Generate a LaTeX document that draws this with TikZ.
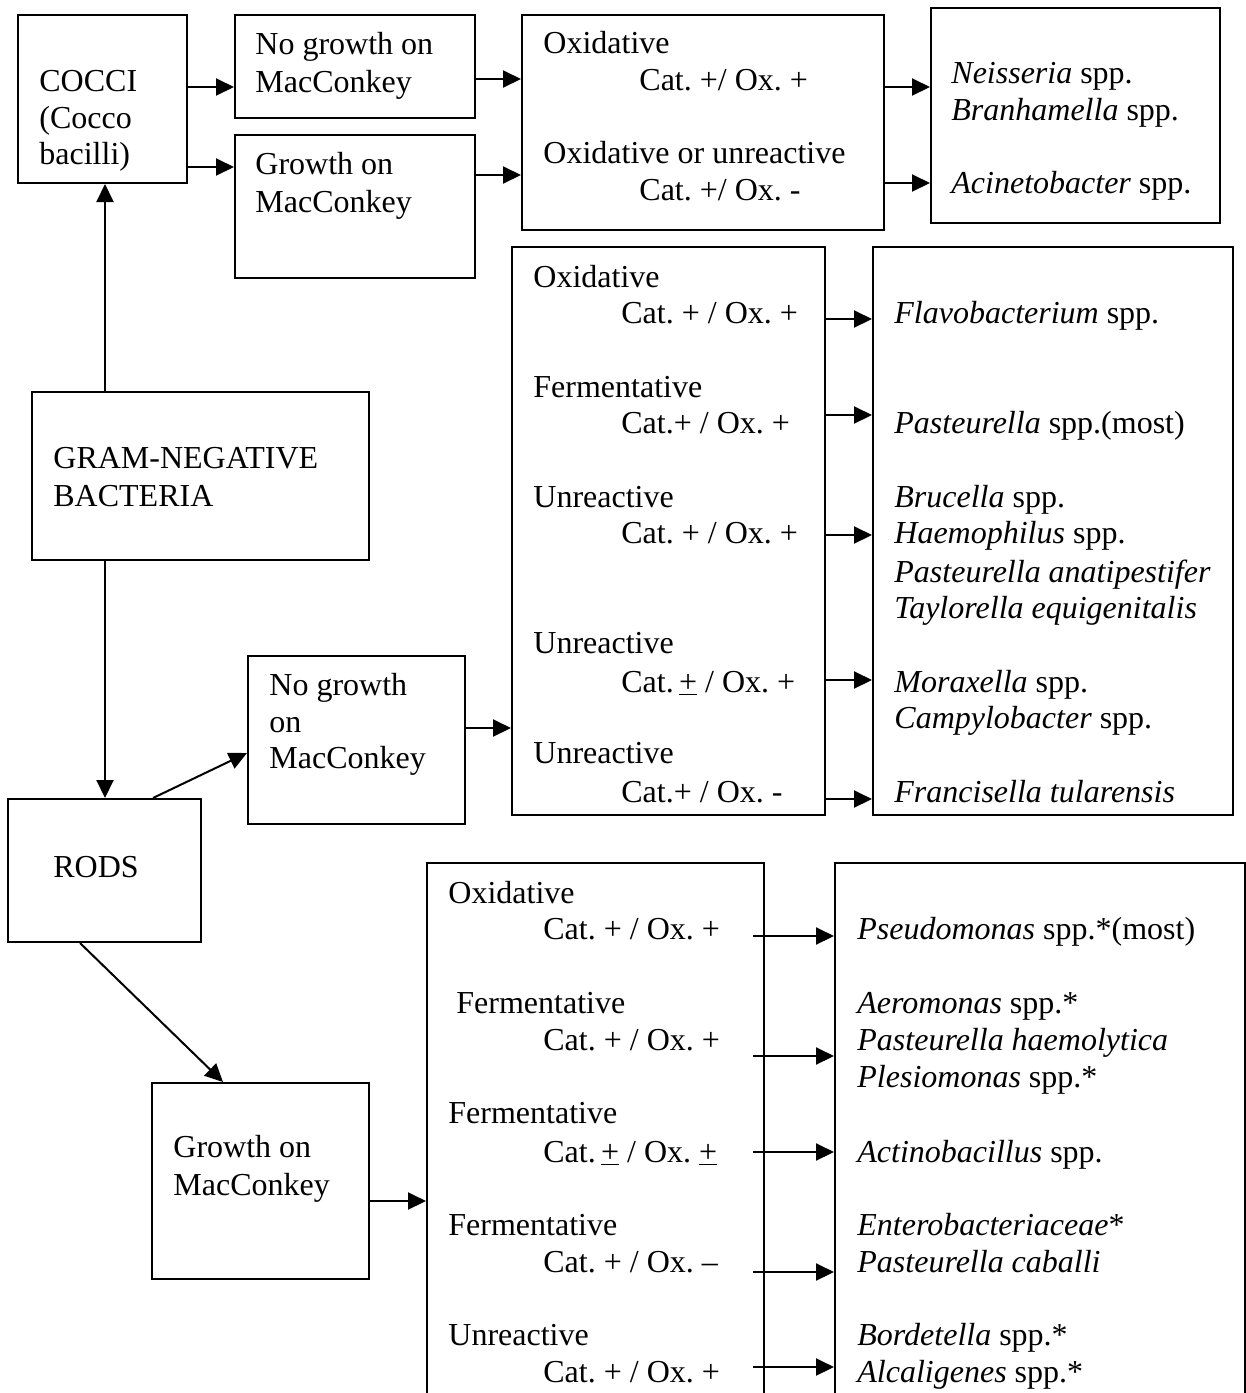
\documentclass[tikz,border=0pt]{standalone}
\usepackage{fontspec}
\setmainfont{Liberation Serif}
\frenchspacing
\usetikzlibrary{arrows.meta,fit}

\tikzset{
  box/.style={draw, line width=1pt, inner sep=0pt},
  txt/.style={anchor=base west, inner sep=0pt, font=\fontsize{16}{18.4}\selectfont},
  arr/.style={line width=1pt, -{Triangle[length=9pt,width=8.5pt]}},
}

\begin{document}
\begin{tikzpicture}[x=0.5pt,y=-0.5pt]
  \useasboundingbox (0,0) rectangle (1246,1393);

  % boxes
  \node[box, fit={(18,15) (187,183)}] (cocci) {};
  \node[box, fit={(235,15) (475,118)}] (nogrowthA) {};
  \node[box, fit={(235,135) (475,278)}] (growthA) {};
  \node[box, fit={(522,15) (884,230)}] (testsA) {};
  \node[box, fit={(931,8) (1220,223)}] (speciesA) {};
  \node[box, fit={(32,392) (369,560)}] (gram) {};
  \node[box, fit={(8,799) (201,942)}] (rods) {};
  \node[box, fit={(248,656) (465,824)}] (nogrowthB) {};
  \node[box, fit={(512,247) (825,815)}] (testsB) {};
  \node[box, fit={(873,247) (1233,815)}] (speciesB) {};
  \node[box, fit={(152,1083) (369,1279)}] (growthB) {};
  \node[box, fit={(427,863) (764,1420)}] (testsC) {};
  \node[box, fit={(835,863) (1245,1420)}] (speciesC) {};

  % texts
  \foreach \y/\t [count=\i] in {91/COCCI, 128/(Cocco, 164/bacilli)}
    \node[txt] (cocci-\i) at (39,\y) {\t};
  \foreach \y/\t [count=\i] in {54/No growth on, 92/MacConkey}
    \node[txt] (nogrowthA-\i) at (255,\y) {\t};
  \foreach \y/\t [count=\i] in {174/Growth on, 212/MacConkey}
    \node[txt] (growthA-\i) at (255,\y) {\t};
  \foreach \y/\t [count=\i] in {468/GRAM-NEGATIVE, 506/BACTERIA}
    \node[txt] (gram-\i) at (53,\y) {\t};
  \node[txt] (rods-1) at (53,877) {RODS};
  \foreach \y/\t [count=\i] in {695/No growth, 732/on, 768/MacConkey}
    \node[txt] (nogrowthB-\i) at (269,\y) {\t};
  \foreach \y/\t [count=\i] in {1157/Growth on, 1195/MacConkey}
    \node[txt] (growthB-\i) at (173,\y) {\t};

  \foreach \y/\t [count=\i] in {53/Oxidative, 163/Oxidative or unreactive}
    \node[txt] (testsA-\i) at (543,\y) {\t};
  \foreach \y/\t [count=\i] in {90/{Cat. +/ Ox. +}, 200/{Cat. +/ Ox. -}}
    \node[txt] (catA-\i) at (639,\y) {\t};
  \foreach \y/\t [count=\i] in {83/\textit{Neisseria} spp., 120/\textit{Branhamella} spp.,
      193/\textit{Acinetobacter} spp.}
    \node[txt] (speciesA-\i) at (951,\y) {\t};

  \foreach \y/\t [count=\i] in {287/Oxidative, 397/Fermentative, 507/Unreactive,
      653/Unreactive, 763/Unreactive}
    \node[txt] (testsB-\i) at (533,\y) {\t};
  \foreach \y/\t [count=\i] in {323/{Cat. + / Ox. +}, 433/{Cat.+ / Ox. +}, 543/{Cat. + / Ox. +},
      692/{Cat.\,\underline{+} / Ox. +}, 802/{Cat.+ / Ox. -}}
    \node[txt] (catB-\i) at (621,\y) {\t};
  \foreach \y/\t [count=\i] in {323/\textit{Flavobacterium} spp., 433/\textit{Pasteurella} spp.(most),
      507/\textit{Brucella} spp., 543/\textit{Haemophilus} spp., 582/\textit{Pasteurella anatipestifer},
      618/\textit{Taylorella equigenitalis}, 692/\textit{Moraxella} spp., 728/\textit{Campylobacter} spp.,
      802/\textit{Francisella tularensis}}
    \node[txt] (speciesB-\i) at (894,\y) {\t};

  \foreach \x/\y/\t [count=\i] in {448/903/Oxidative, 456/1013/Fermentative, 448/1123/Fermentative,
      448/1235/Fermentative, 448/1345/Unreactive}
    \node[txt] (testsC-\i) at (\x,\y) {\t};
  \foreach \y/\t [count=\i] in {939/{Cat. + / Ox. +}, 1050/{Cat. + / Ox. +},
      1162/{Cat.\,\underline{+} / Ox. \underline{+}}, 1272/{Cat. + / Ox. –}, 1382/{Cat. + / Ox. +}}
    \node[txt] (catC-\i) at (543,\y) {\t};
  \foreach \y/\t [count=\i] in {939/\textit{Pseudomonas} spp.*(most), 1013/\textit{Aeromonas} spp.*,
      1050/\textit{Pasteurella haemolytica}, 1087/\textit{Plesiomonas} spp.*,
      1162/\textit{Actinobacillus} spp., 1235/\textit{Enterobacteriaceae}*,
      1272/\textit{Pasteurella caballi}, 1345/\textit{Bordetella} spp.*, 1382/\textit{Alcaligenes} spp.*}
    \node[txt] (speciesC-\i) at (857,\y) {\t};

  % connectors
  \draw[arr] (gram.north -| 105,0) -- (cocci.south -| 105,0);
  \draw[arr] (gram.south -| 105,0) -- (rods.north -| 105,0);
  \draw[arr] (cocci.east |- 0,87) -- (nogrowthA.west |- 0,87);
  \draw[arr] (cocci.east |- 0,167) -- (growthA.west |- 0,167);
  \draw[arr] (nogrowthA.east |- 0,79) -- (testsA.west |- 0,79);
  \draw[arr] (growthA.east |- 0,175) -- (testsA.west |- 0,175);
  \foreach \y in {87,183}
    \draw[arr] (testsA.east |- 0,\y) -- (speciesA.west |- 0,\y);
  \draw[arr] (rods.north -| 153,0) -- (nogrowthB.west |- 0,753);
  \draw[arr] (nogrowthB.east |- 0,728) -- (testsB.west |- 0,728);
  \foreach \y in {319,415,535,680,799}
    \draw[arr] (testsB.east |- 0,\y) -- (speciesB.west |- 0,\y);
  \draw[arr] (rods.south -| 80,0) -- (growthB.north -| 223,0);
  \draw[arr] (growthB.east |- 0,1201) -- (testsC.west |- 0,1201);
  \foreach \y in {936,1056,1152,1272,1367}
    \draw[arr] ([xshift=-6pt]testsC.east |- 0,\y) -- (speciesC.west |- 0,\y);
\end{tikzpicture}
\end{document}
